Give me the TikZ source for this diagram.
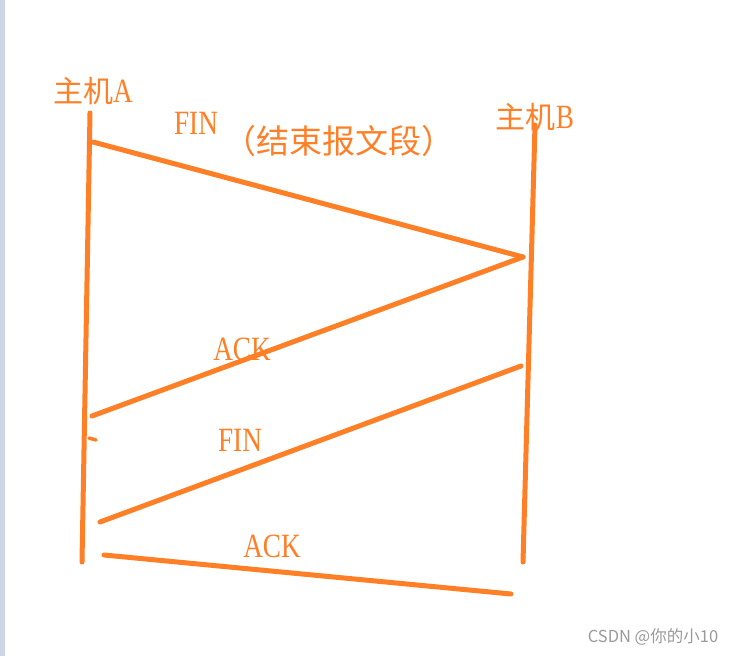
\documentclass[tikz,border=0pt]{standalone}
\usepackage{fontspec}
\usepackage{xcolor}
\usetikzlibrary{positioning,calc}
\setmainfont[FakeStretch=0.8]{Liberation Serif}
\newfontfamily\cjk{Noto Sans CJK SC}
\definecolor{paintOrange}{HTML}{FF7F27}
\definecolor{stripGray}{HTML}{CDD6E6}
\definecolor{markGray}{HTML}{9A9A9A}
\tikzset{
  lifeline/.style={draw=paintOrange, line width=5pt, line cap=round},
  msgline/.style={draw=paintOrange, line width=5pt, line cap=round},
  hostlabel/.style={text=paintOrange, inner sep=0pt, font=\fontsize{30}{32}\selectfont},
  msglabel/.style={text=paintOrange, inner sep=0pt, font=\fontsize{34}{36}\selectfont},
  notelabel/.style={text=paintOrange, inner sep=0pt, font=\cjk\fontsize{33}{36}\selectfont},
  marklabel/.style={text=markGray, inner sep=0pt, font=\cjk\fontsize{16.5}{18}\selectfont},
}

\begin{document}
\begin{tikzpicture}[x=1pt, y=-1pt]
    \useasboundingbox (0,0) rectangle (736,656);
    \fill[stripGray] (0,0) rectangle (5,656);
    % hosts
    \node[hostlabel] (hostA) at (93,91) {{\cjk 主机}\fontsize{34}{36}\selectfont A};
    \node[hostlabel] (hostB) at (535,117) {{\cjk 主机}\fontsize{34}{36}\selectfont B};
    \coordinate (aTop) at (90,113);
    \coordinate (aBot) at (82,562);
    \coordinate (bTop) at (535,125);
    \coordinate (bBot) at (523,562);
    \draw[lifeline] (aTop) -- (aBot);
    \draw[lifeline] (bTop) -- (bBot);
    % message ends
    \coordinate (fin1A) at (93,142);
    \coordinate (turnB) at (523,257);
    \coordinate (ack1A) at (92,416);
    \coordinate (fin2B) at (521,366);
    \coordinate (fin2A) at (100,522);
    \coordinate (ack2A) at (104,555);
    \coordinate (ack2B) at (511,594);
    \coordinate (tickA) at (89,438);
    \coordinate (tickB) at (96,440);
    \draw[msgline] (fin1A) -- (turnB);
    \draw[msgline] (turnB) -- (ack1A);
    \draw[msgline] (fin2B) -- (fin2A);
    \draw[msgline] (ack2A) -- (ack2B);
    \draw[msgline, line width=3.5pt] (tickA) -- (tickB);
    % labels
    \node[msglabel] (fin1) at (196,123) {FIN};
    \node[notelabel] (finNote) at (339,141) {（结束报文段）};
    \node[msglabel] (ack1) at (242,349) {ACK};
    \node[msglabel] (fin2) at (240,440) {FIN};
    \node[msglabel] (ack2) at (272,546) {ACK};
    \node[marklabel] (mark) at (653,637) {CSDN @你的小10};
\end{tikzpicture}
\end{document}
